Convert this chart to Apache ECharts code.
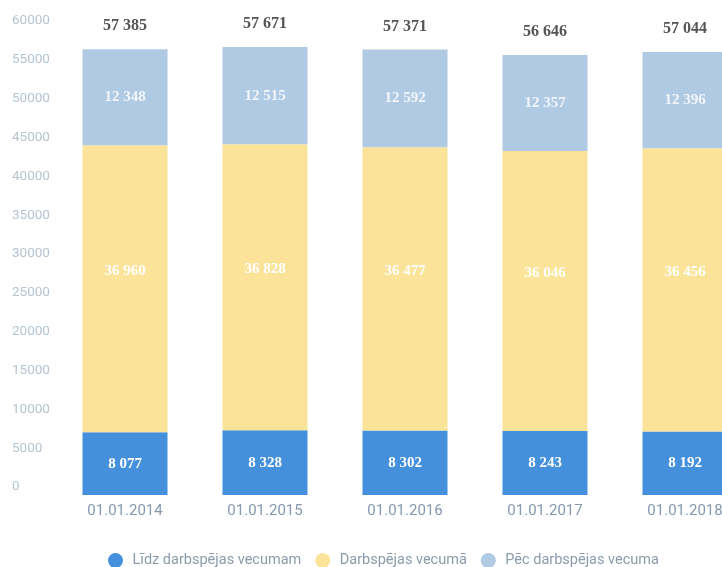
<!DOCTYPE html>
<html>
<head>
<meta charset="utf-8">
<script src="https://cdn.jsdelivr.net/npm/echarts@6/dist/echarts.min.js"></script>
<style>
  html, body { margin: 0; padding: 0; background: #fff; }
  #main { width: 722px; height: 567px; }
</style>
</head>
<body>
<div id="main"></div>
<script>
// values
var dates = ['01.01.2014', '01.01.2015', '01.01.2016', '01.01.2017', '01.01.2018'];
var seriesNames = ['Līdz darbspējas vecumam', 'Darbspējas vecumā', 'Pēc darbspējas vecuma'];
var belowWorkAge = [8077, 8328, 8302, 8243, 8192];
var workAge = [36960, 36828, 36477, 36046, 36456];
var aboveWorkAge = [12348, 12515, 12592, 12357, 12396];
var totals = [57385, 57671, 57371, 56646, 57044];

function fmt(v) {
  return String(v).replace(/\B(?=(\d{3})+(?!\d))/g, ' ');
}

var chart = echarts.init(document.getElementById('main'), null, { renderer: 'canvas' });

var innerLabel = {
  show: true,
  position: 'inside',
  color: '#ffffff',
  fontFamily: 'Liberation Serif',
  fontWeight: 'bold',
  fontSize: 15,
  formatter: function (p) { return fmt(p.value); }
};

var option = {
  backgroundColor: '#ffffff',
  animation: false,
  // the source image is cropped on the right, so the grid runs past the canvas
  grid: { left: 55, width: 700, top: 29, bottom: 72, outerBoundsMode: 'none' },
  legend: {
    data: seriesNames,
    left: 103,
    top: 548,
    icon: 'circle',
    itemWidth: 24,
    itemHeight: 15,
    itemGap: 14,
    textStyle: { color: '#8b9bab', fontSize: 14.5, fontFamily: 'Roboto' }
  },
  xAxis: {
    type: 'category',
    data: dates,
    axisLine: { show: false },
    axisTick: { show: false },
    axisLabel: { color: '#8598ae', fontSize: 15, fontFamily: 'Roboto', margin: 9 }
  },
  yAxis: {
    type: 'value',
    min: 0,
    max: 60000,
    interval: 5000,
    splitLine: { show: false },
    axisLine: { show: false },
    axisTick: { show: false },
    axisLabel: {
      color: '#b6c4d2',
      fontSize: 13.5,
      fontFamily: 'Roboto',
      align: 'left',
      verticalAlign: 'bottom',
      lineHeight: 16,
      margin: 43,
      formatter: function (v) { return String(v); }
    }
  },
  series: [
    {
      name: seriesNames[0],
      type: 'bar',
      stack: 'all',
      barWidth: 85,
      data: belowWorkAge,
      itemStyle: { color: '#4590dc' },
      label: innerLabel
    },
    {
      name: seriesNames[1],
      type: 'bar',
      stack: 'all',
      data: workAge,
      itemStyle: { color: '#fbe49a' },
      label: Object.assign({}, innerLabel, { offset: [0, -18] })
    },
    {
      name: seriesNames[2],
      type: 'bar',
      stack: 'all',
      data: aboveWorkAge,
      itemStyle: { color: '#afcae2' },
      label: Object.assign({}, innerLabel, { color: '#f2f6fb' })
    },
    {
      name: 'total',
      type: 'bar',
      stack: 'all',
      data: totals.map(function () { return 0; }),
      itemStyle: { color: 'transparent' },
      label: {
        show: true,
        position: 'top',
        distance: 15,
        color: '#555555',
        fontFamily: 'Liberation Serif',
        fontWeight: 'bold',
        fontSize: 16,
        formatter: function (p) { return fmt(totals[p.dataIndex]); }
      }
    }
  ]
};

chart.setOption(option);
</script>
</body>
</html>
